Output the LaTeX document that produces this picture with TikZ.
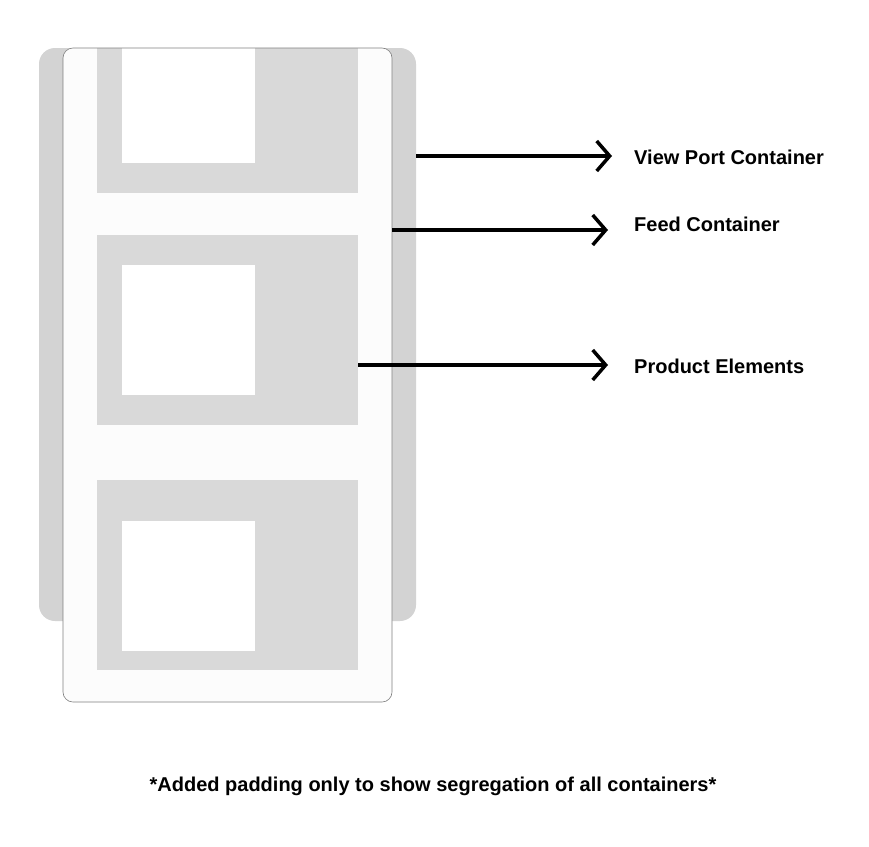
\documentclass[tikz,border=0pt]{standalone}
\usepackage{fontspec}
\setmainfont{Liberation Sans}
\usetikzlibrary{arrows.meta}
\definecolor{boxgray}{HTML}{D9D9D9}
\definecolor{backgray}{HTML}{D3D3D3}
\definecolor{feedwhite}{HTML}{FCFCFC}
\tikzset{
    product/.style={fill=boxgray, draw=none},
    thumb/.style={fill=white, draw=none},
    pointer/.style={line width=3.5pt, -{Straight Barb[length=13pt,width=30pt,line width=3.5pt]}},
    label/.style={anchor=west, font=\bfseries\fontsize{20pt}{22pt}\selectfont, inner sep=0pt}
}
\begin{document}
\begin{tikzpicture}[x=1pt, y=-1pt]
        \useasboundingbox (0, 0) rectangle (869, 846);
        \fill[white] (0, 0) rectangle (869, 846);

        \fill[backgray, rounded corners=16pt] (39, 48) rectangle (416, 621);
        \fill[feedwhite, rounded corners=10pt] (63, 48) rectangle (392, 702);

        \foreach \top/\bot/\ttop/\tbot in {48/193/48/163, 235/425/265/395, 480/670/521/651} {
            \fill[product] (97, \top) rectangle (358, \bot);
            \fill[thumb] (122, \ttop) rectangle (255, \tbot);
        }
        \draw[gray, line width=0.6pt, rounded corners=10pt] (63, 48) rectangle (392, 702);

        \coordinate (viewport) at (416, 156);
        \coordinate (feed) at (392, 230);
        \coordinate (item) at (358, 365);

        \node[label] (lviewport) at (634, 157) {View Port Container};
        \node[label] (lfeed) at (634, 224) {Feed Container};
        \node[label] (litem) at (634, 366) {Product Elements};

        \draw[pointer] (viewport) -- (612, 156);
        \draw[pointer] (feed) -- (608, 230);
        \draw[pointer] (item) -- (608, 365);

        \node[font=\bfseries\fontsize{20pt}{22pt}\selectfont] (note) at (433, 786) {*Added padding only to show segregation of all containers*};
    \end{tikzpicture}
\end{document}
